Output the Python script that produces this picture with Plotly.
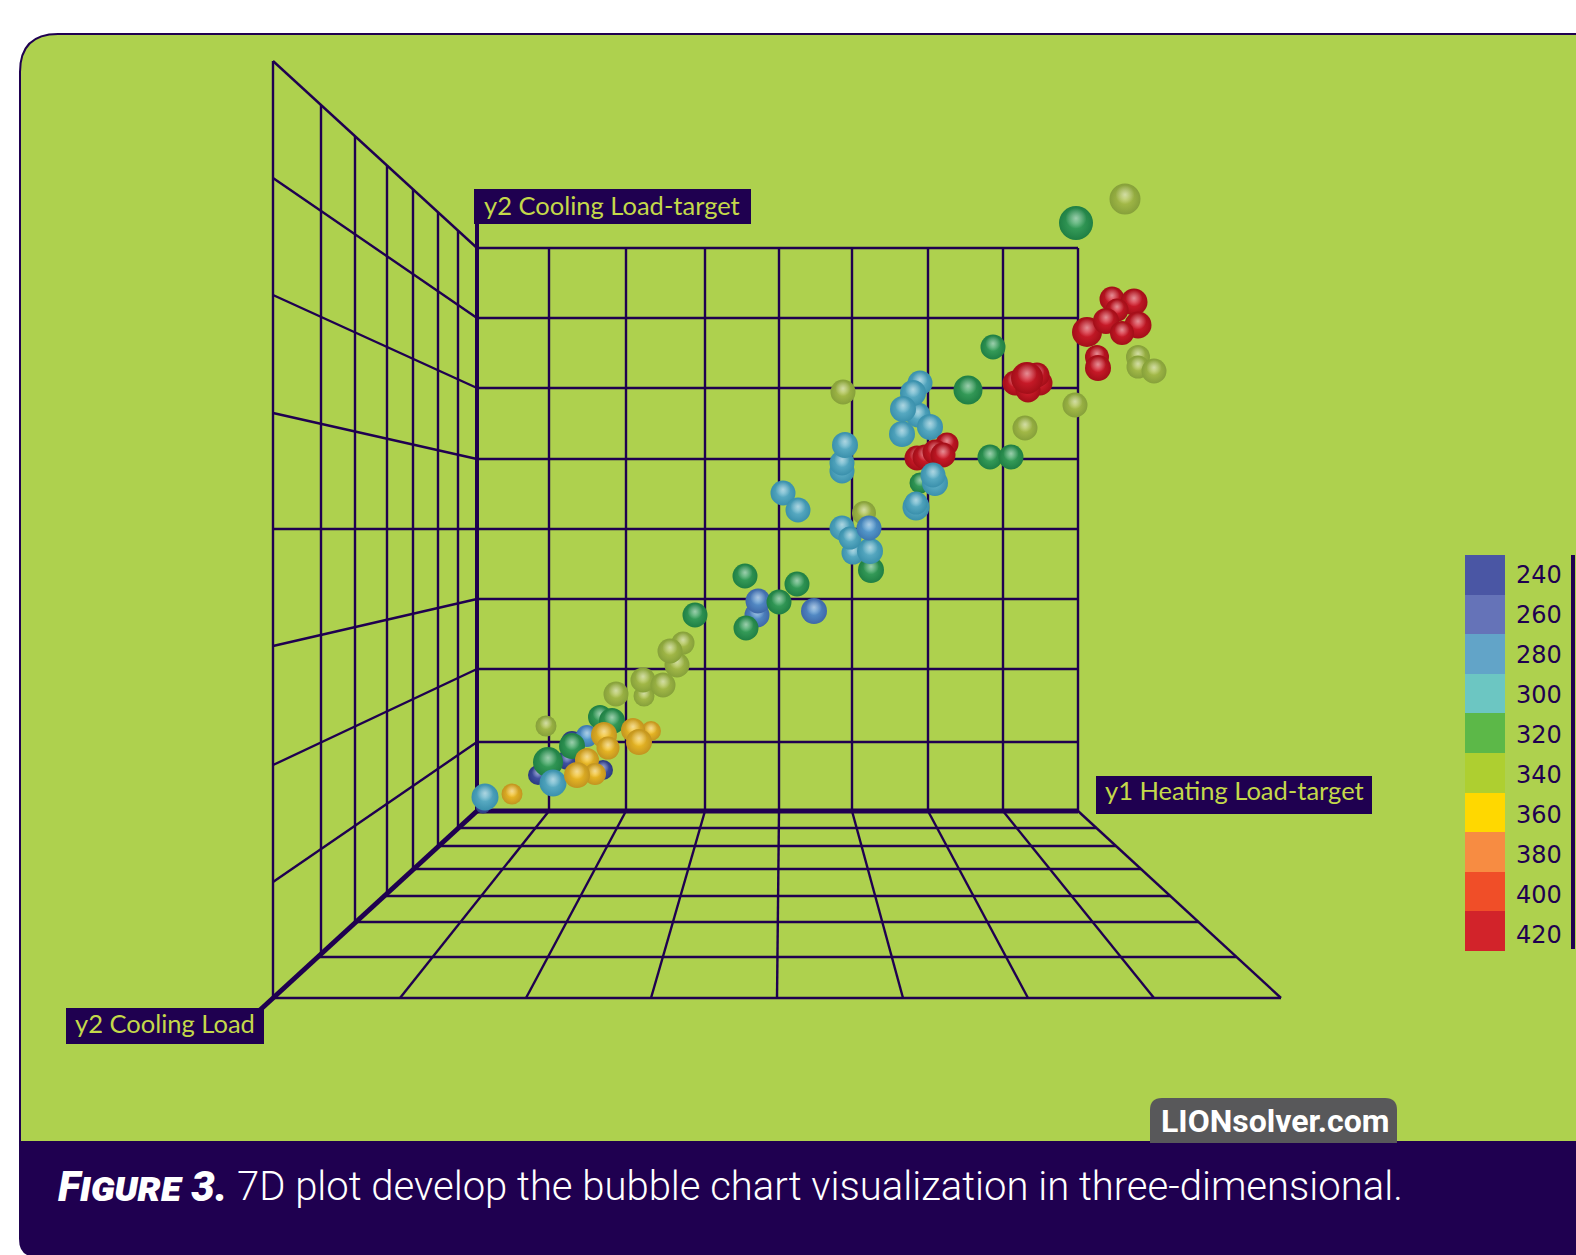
import plotly.graph_objects as go

W, H = 1576, 1255
INK = "#1F0050"
PANEL = "#AED14E"

# --- chart values ------------------------------------------------------------
heating = [6, 8, 35, 61, 90, 126, 95, 110, 123, 135, 69, 95, 71, 76, 110, 118, 100, 127, 131, 174, 156, 162,
           167, 139, 166, 186, 200, 206, 193, 218, 280, 281, 268, 320, 302, 269, 337, 394, 376, 393, 387, 365,
           373, 392, 306, 321, 365, 365, 368, 366, 441, 443, 436, 426, 425, 453, 491, 516, 443, 440, 448, 470,
           458, 466, 458, 456, 439, 439, 513, 534, 548, 598, 661, 661, 677, 538, 563, 551, 560, 550, 620, 621,
           610, 635, 657, 640, 629, 661, 645, 599, 648]
cooling = [5, 14, 17, 36, 51, 41, 69, 75, 94, 90, 85, 65, 49, 28, 51, 37, 36, 76, 63, 80, 81, 69,
           115, 117, 131, 126, 146, 168, 160, 196, 196, 210, 235, 227, 209, 183, 200, 241, 258, 260, 298, 283,
           273, 283, 318, 301, 340, 348, 366, 419, 396, 428, 418, 402, 377, 384, 421, 464, 328, 353, 354, 367,
           359, 356, 328, 336, 304, 308, 354, 354, 383, 406, 454, 444, 440, 428, 428, 421, 436, 433, 454, 443,
           479, 512, 509, 501, 490, 486, 478, 588, 612]
colour_value = [240, 300, 360, 240, 240, 240, 240, 280, 320, 320, 340, 320, 320, 300, 360, 360, 360, 360, 360, 360, 360, 360,
                340, 340, 340, 340, 340, 340, 340, 320, 260, 260, 320, 320, 320, 320, 260, 320, 300, 300, 340, 300,
                300, 280, 300, 300, 300, 300, 300, 340, 300, 300, 300, 300, 300, 300, 320, 320, 320, 420, 420, 420,
                420, 420, 300, 300, 300, 300, 320, 320, 340, 340, 340, 340, 340, 420, 420, 420, 420, 420, 420, 420,
                420, 420, 420, 420, 420, 420, 420, 320, 340]
bubble = [15, 27, 21, 20, 20, 20, 22, 22, 24, 26, 21, 26, 30, 27, 24, 22, 26, 26, 23, 20, 24, 26,
          21, 25, 25, 25, 25, 23, 25, 25, 25, 25, 25, 25, 25, 25, 26, 26, 23, 26, 24, 25,
          23, 25, 25, 25, 25, 25, 26, 25, 25, 25, 26, 26, 26, 26, 29, 25, 21, 25, 25, 23,
          25, 25, 26, 25, 27, 23, 25, 25, 25, 25, 24, 23, 25, 25, 25, 25, 25, 32, 24, 26,
          30, 25, 27, 23, 26, 27, 24, 34, 31]

legend_levels = [240, 260, 280, 300, 320, 340, 360, 380, 400, 420]
legend_colours = ["#4A56A4", "#6573B8", "#62A4C8", "#6CC6C2", "#5CB848",
                  "#AECF30", "#FFD800", "#F78C42", "#F04E28", "#D2232A"]

# back wall ticks, and where the same ticks land on the near edge of floor / side wall
wall_x_ticks = [0, 72, 149, 228, 302, 375, 451, 526, 601]
wall_y_ticks = [0, 69, 142, 212, 282, 352, 423, 493, 563]
floor_front_x = [-204, -77, 49, 174, 300, 426, 551, 677, 804]
side_front_y = [-187, -71, 46, 165, 282, 398, 516, 633, 750]
depth_ticks = [19, 39, 64, 90, 122, 156, 204]
floor_drops = [17, 35, 58, 85, 111, 146, 187]
X_RANGE, Y_RANGE = 601, 563
DEPTH, DROP = 204, 187

# sphere shading: rim colour, body colour for each colour value
shade = {240: ("#2B3A80", "#4A5CB0"), 260: ("#3E68A8", "#5C9AD2"), 280: ("#3D78B0", "#60A8D8"),
         300: ("#3A90AC", "#66B6CC"), 320: ("#1F7F44", "#3FA862"), 340: ("#86A03A", "#B0C44E"),
         360: ("#C29420", "#F6C426"), 420: ("#A30E18", "#D92030")}

fx = lambda p: p / W
fy = lambda p: 1 - p / H


def rounded(x0, y0, x1, y1, tl=0, tr=0, br=0, bl=0):
    def pt(x, y):
        return f"{fx(x):.5f},{fy(y):.5f}"
    return (f"M{pt(x0 + tl, y0)} L{pt(x1 - tr, y0)} Q{pt(x1, y0)} {pt(x1, y0 + tr)} "
            f"L{pt(x1, y1 - br)} Q{pt(x1, y1)} {pt(x1 - br, y1)} L{pt(x0 + bl, y1)} "
            f"Q{pt(x0, y1)} {pt(x0, y1 - bl)} L{pt(x0, y0 + tl)} Q{pt(x0, y0)} {pt(x0 + tl, y0)} Z")


def box(x0, y0, x1, y1):
    return dict(type="rect", x0=fx(x0), x1=fx(x1), y0=fy(y1), y1=fy(y0), xref="paper", yref="paper",
                fillcolor=INK, line=dict(width=0), layer="above")


shapes = [
    dict(type="path", path=rounded(20, 34, W + 40, 1145, tl=38), xref="paper", yref="paper",
         fillcolor=PANEL, line=dict(color=INK, width=2), layer="below"),
    dict(type="path", path=rounded(19, 1141, W + 40, H + 2, bl=18), xref="paper", yref="paper",
         fillcolor=INK, line=dict(width=0), layer="below"),
    dict(type="path", path=rounded(1150, 1098, 1397, 1143, tl=12, tr=12), xref="paper", yref="paper",
         fillcolor="#58585A", line=dict(width=0), layer="below"),
    dict(type="rect", x0=fx(1571), x1=fx(1575), y0=fy(949), y1=fy(555), xref="paper", yref="paper",
         fillcolor=INK, line=dict(width=0), layer="below"),
    box(474, 189, 751, 224),
    box(1096, 776, 1372, 814),
    box(66, 1008, 264, 1044),
]

fig = go.Figure()


def wall_line(xs, ys, width=2.4):
    fig.add_trace(go.Scatter(x=xs, y=ys, mode="lines", line=dict(color=INK, width=width),
                             cliponaxis=False, hoverinfo="skip", showlegend=False))


# back wall
for xb in wall_x_ticks[1:]:
    wall_line([xb, xb], [0, Y_RANGE])
for yb in wall_y_ticks[1:]:
    wall_line([0, X_RANGE], [yb, yb])
# floor: lines running towards the viewer
for xb, xf in zip(wall_x_ticks, floor_front_x):
    wall_line([xb, xf], [0, -DROP])
# side wall: lines running towards the viewer
for yb, yf in zip(wall_y_ticks, side_front_y):
    wall_line([0, -DEPTH], [yb, yf])
# depth lines on floor and side wall
for d, drop in zip(depth_ticks, floor_drops):
    reach = drop * DEPTH / DROP
    wall_line([-reach, X_RANGE + reach * (floor_front_x[-1] - X_RANGE) / DEPTH], [-drop, -drop])
    rise = d * DROP / DEPTH
    wall_line([-d, -d], [-rise, Y_RANGE + rise])
# heavy axis edges
wall_line([0, 0], [0, Y_RANGE + 24], width=4)
wall_line([0, X_RANGE], [0, 0], width=5)
wall_line([0, -217], [0, -199], width=5)

# bubbles: a shaded body and a soft highlight for each, kept in depth order
xs, ys, sizes, rims, glows = [], [], [], [], []
for h, c, v, b in zip(heating, cooling, colour_value, bubble):
    rim, body = shade[v]
    xs += [h, h]
    ys += [c, c + b * 0.14]
    sizes += [b, b * 0.62]
    rims += [rim, "rgba(255,255,255,0)"]
    glows += [body, "rgba(255,255,255,0.5)"]

fig.add_trace(go.Scatter(
    x=xs, y=ys, mode="markers", cliponaxis=False, hoverinfo="skip", showlegend=False,
    marker=dict(size=sizes, color=rims, opacity=1, line=dict(width=0),
                gradient=dict(type="radial", color=glows)),
))

# colour key
steps = []
n = len(legend_levels)
for i, col in enumerate(legend_colours):
    steps += [[i / n, col], [(i + 1) / n, col]]
fig.add_trace(go.Heatmap(
    x=[0], y=legend_levels, z=[[v] for v in legend_levels], zmin=230, zmax=430,
    colorscale=steps, showscale=False, hoverinfo="skip", xaxis="x2", yaxis="y2",
))

LABEL_COL = "#C4D94A"


def tag(text, xc, yc):
    return dict(text=text, xref="paper", yref="paper", x=fx(xc), y=fy(yc), xanchor="center", yanchor="middle",
                showarrow=False, font=dict(family="Lato", size=25.5, color=LABEL_COL))


annotations = [
    tag("y2 Cooling Load-target", 612, 204.5),
    tag("y1 Heating Load-target", 1234, 790),
    tag("y2 Cooling Load", 165, 1023),
    dict(text="LIONsolver.com", xref="paper", yref="paper", x=fx(1275), y=fy(1121), xanchor="center",
         yanchor="middle", showarrow=False, font=dict(family="Roboto", size=32, color="white", weight=700)),
    dict(text="Figure 3.", xref="paper", yref="paper", x=fx(56), y=fy(1186), xanchor="left", yanchor="middle",
         showarrow=False, font=dict(family="Roboto", size=42, color="white", weight=900, style="italic",
                                    variant="small-caps")),
    dict(text="7D plot develop the bubble chart visualization in three-dimensional.", xref="paper", yref="paper",
         x=fx(235), y=fy(1186), xanchor="left", yanchor="middle", showarrow=False,
         font=dict(family="Roboto", size=40, color="white", weight=300)),
]

fig.update_layout(
    width=W, height=H, margin=dict(l=0, r=0, t=0, b=0, pad=0), autosize=False,
    paper_bgcolor="white", plot_bgcolor="rgba(0,0,0,0)", showlegend=False,
    shapes=shapes, annotations=annotations,
    xaxis=dict(domain=[0, 1], range=[-477, W - 477], visible=False, anchor="y", fixedrange=True),
    yaxis=dict(domain=[0, 1], range=[811 - H, 811], visible=False, anchor="x", fixedrange=True),
    xaxis2=dict(domain=[fx(1465), fx(1505)], range=[-0.5, 0.5], showticklabels=False, ticks="", showgrid=False,
                zeroline=False, showline=False, anchor="y2", fixedrange=True),
    yaxis2=dict(domain=[fy(951), fy(555)], range=[430, 230], side="right", ticks="",
                tickvals=[v + i * 0.2 for i, v in enumerate(legend_levels)], ticktext=[str(v) for v in legend_levels],
                ticklabelstandoff=10, showgrid=False, zeroline=False, showline=False, anchor="x2", fixedrange=True,
                tickfont=dict(family="DejaVu Sans", size=24, color=INK)),
)

fig.write_html("out.html", config=dict(displayModeBar=False),
               post_script="document.body.style.margin='0';document.documentElement.style.overflow='hidden';")
